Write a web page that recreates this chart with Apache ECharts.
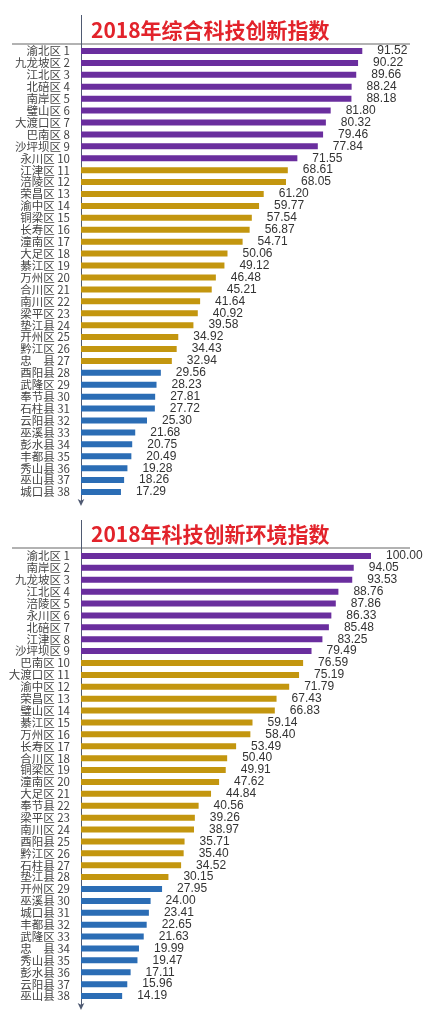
<!DOCTYPE html>
<html>
<head>
<meta charset="utf-8">
<script src="https://cdn.jsdelivr.net/npm/echarts@6/dist/echarts.min.js"></script>
<style>
  html, body { margin: 0; padding: 0; background: #fff; }
  #chart { width: 426px; height: 1024px; }
</style>
</head>
<body>
<div id="chart"></div>
<script>
const titles = ['2018年综合科技创新指数', '2018年科技创新环境指数'];

// 综合科技创新指数
const districts1 = ['渝北区', '九龙坡区', '江北区', '北碚区', '南岸区', '璧山区', '大渡口区', '巴南区', '沙坪坝区', '永川区',
  '江津区', '涪陵区', '荣昌区', '渝中区', '铜梁区', '长寿区', '潼南区', '大足区', '綦江区', '万州区',
  '合川区', '南川区', '梁平区', '垫江县', '开州区', '黔江区', '忠　县', '酉阳县', '武隆区', '奉节县',
  '石柱县', '云阳县', '巫溪县', '彭水县', '丰都县', '秀山县', '巫山县', '城口县'];
const values1 = [91.52, 90.22, 89.66, 88.24, 88.18, 81.80, 80.32, 79.46, 77.84, 71.55,
  68.61, 68.05, 61.20, 59.77, 57.54, 56.87, 54.71, 50.06, 49.12, 46.48,
  45.21, 41.64, 40.92, 39.58, 34.92, 34.43, 32.94, 29.56, 28.23, 27.81,
  27.72, 25.30, 21.68, 20.75, 20.49, 19.28, 18.26, 17.29];
const tierSizes1 = [10, 17, 11];

// 科技创新环境指数
const districts2 = ['渝北区', '南岸区', '九龙坡区', '江北区', '涪陵区', '永川区', '北碚区', '江津区', '沙坪坝区', '巴南区',
  '大渡口区', '渝中区', '荣昌区', '璧山区', '綦江区', '万州区', '长寿区', '合川区', '铜梁区', '潼南区',
  '大足区', '奉节县', '梁平区', '南川区', '酉阳县', '黔江区', '石柱县', '垫江县', '开州区', '巫溪县',
  '城口县', '丰都县', '武隆区', '忠　县', '秀山县', '彭水县', '云阳县', '巫山县'];
const values2 = [100.00, 94.05, 93.53, 88.76, 87.86, 86.33, 85.48, 83.25, 79.49, 76.59,
  75.19, 71.79, 67.43, 66.83, 59.14, 58.40, 53.49, 50.40, 49.91, 47.62,
  44.84, 40.56, 39.26, 38.97, 35.71, 35.40, 34.52, 30.15, 27.95, 24.00,
  23.41, 22.65, 21.63, 19.99, 19.47, 17.11, 15.96, 14.19];
const tierSizes2 = [9, 19, 10];

const tierColors = ['#6a2e9e', '#c3960f', '#2b6db5'];
const cjk = '"Noto Sans CJK SC", "Liberation Sans", sans-serif';

const tierOf = (sizes, index) => {
  let acc = 0;
  for (let t = 0; t < sizes.length; t++) {
    acc += sizes[t];
    if (index < acc) return t;
  }
  return sizes.length - 1;
};

const panels = [
  { names: districts1, values: values1, tiers: tierSizes1, top: 45, height: 453, min: 5, max: 94.2, titleTop: 15, ruleY: 44, axisTop: 15 },
  { names: districts2, values: values2, tiers: tierSizes2, top: 550, height: 452, min: 0, max: 100, titleTop: 519, ruleY: 548, axisTop: 520 },
];

const chart = echarts.init(document.getElementById('chart'), null, { renderer: 'canvas' });

chart.setOption({
  animation: false,
  backgroundColor: '#fff',
  title: panels.map((p, i) => ({
    text: titles[i],
    left: 86,
    top: p.titleTop,
    textStyle: { color: '#e2232b', fontSize: 21, fontWeight: 'bold', fontFamily: cjk },
  })),
  grid: panels.map((p) => ({ left: 81, width: 290, top: p.top, height: p.height })),
  xAxis: panels.map((p, i) => ({
    type: 'value', gridIndex: i, min: p.min, max: p.max, show: false,
  })),
  yAxis: panels.map((p, i) => ({
    type: 'category',
    gridIndex: i,
    inverse: true,
    data: p.names,
    axisTick: { show: false },
    axisLine: {
      show: true,
      symbol: ['arrow', 'none'],
      symbolSize: [5, 7],
      symbolOffset: [-8, 0],
      lineStyle: { color: '#4f5a72', width: 1 },
    },
    axisLabel: {
      interval: 0,
      margin: 11,
      color: '#444',
      fontSize: 11.5,
      fontFamily: cjk,
      formatter: (name, idx) => `${name} ${idx + 1}`,
    },
  })),
  series: panels.map((p, i) => ({
    type: 'bar',
    xAxisIndex: i,
    yAxisIndex: i,
    barWidth: 6,
    data: p.values.map((v, k) => ({ value: v, itemStyle: { color: tierColors[tierOf(p.tiers, k)] } })),
    label: {
      show: true,
      position: 'right',
      distance: 15,
      color: '#333',
      fontSize: 12,
      fontFamily: '"Liberation Sans", Arial, sans-serif',
      formatter: ({ value }) => value.toFixed(2),
    },
  })),
  graphic: panels.flatMap((p) => [
    { type: 'line', shape: { x1: 12, y1: p.ruleY, x2: 410, y2: p.ruleY }, style: { stroke: '#999', lineWidth: 1.5 } },
    { type: 'line', shape: { x1: 81.5, y1: p.axisTop, x2: 81.5, y2: p.top }, style: { stroke: '#4f5a72', lineWidth: 1 } },
    { type: 'line', shape: { x1: 81.5, y1: p.top + p.height, x2: 81.5, y2: p.top + p.height + 5 }, style: { stroke: '#4f5a72', lineWidth: 1 } },
  ]),
});
</script>
</body>
</html>
